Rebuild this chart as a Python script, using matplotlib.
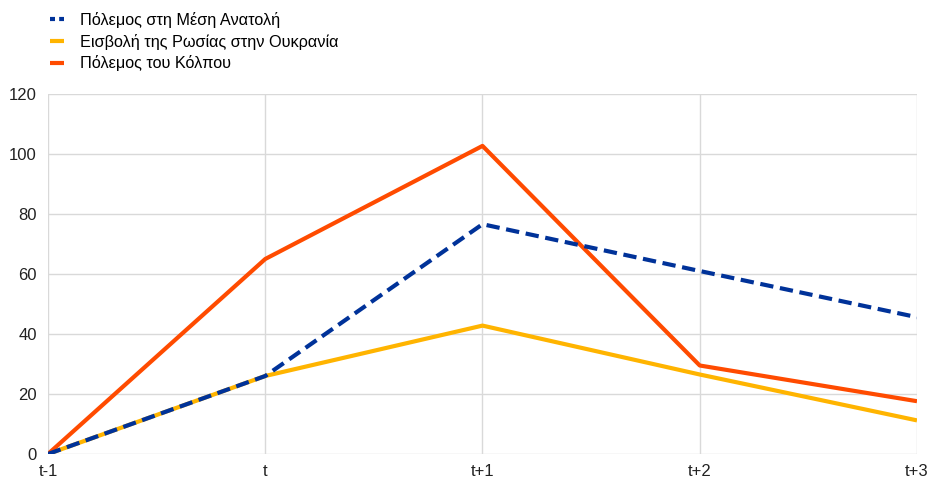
import matplotlib.pyplot as plt

periods = ["t-1", "t", "t+1", "t+2", "t+3"]
middle_east = [0, 26, 76.6, 61, 45.6]
russia_ukraine = [0, 26, 42.8, 26.5, 11.2]
gulf_war = [0, 65, 102.7, 29.5, 17.6]

labels = ["Πόλεμος στη Μέση Ανατολή",
          "Εισβολή της Ρωσίας στην Ουκρανία",
          "Πόλεμος του Κόλπου"]
colors = ["#003299", "#ffb400", "#ff4b00"]

plt.rcParams['font.family'] = ['Liberation Sans', 'DejaVu Sans']

fig = plt.figure(figsize=(9.29, 4.79), dpi=100)
ax = fig.add_axes([48 / 929, 1 - 454 / 479, (917 - 48) / 929, (454 - 94) / 479])

x = list(range(len(periods)))
l_ru, = ax.plot(x, russia_ukraine, color=colors[1], lw=3, solid_capstyle='butt', zorder=3)
l_gw, = ax.plot(x, gulf_war, color=colors[2], lw=3, solid_capstyle='butt', zorder=4)
l_me, = ax.plot(x, middle_east, color=colors[0], lw=3, dashes=(3.2, 1.6), zorder=5)

ax.set_xlim(0, len(periods) - 1)
ax.set_ylim(0, 120)
ax.set_yticks(range(0, 121, 20))
ax.set_xticks(x)
ax.set_xticklabels(periods)

ax.grid(True, color="#d9d9d9", lw=1)
ax.set_axisbelow(True)
for s in ax.spines.values():
    s.set_visible(False)
ax.tick_params(length=0, labelsize=12, colors="#222222", pad=8)
ax.tick_params(axis='x', pad=7)

# legend handle for the dashed series: two short blocks like the original
leg_me = plt.Line2D([], [], color=colors[0], lw=3, dashes=(1.2, 1.0))
fig.legend([leg_me, l_ru, l_gw], labels, loc="upper left", bbox_to_anchor=(38 / 929, 1.0),
           frameon=False, fontsize=11.7, handlelength=0.86, handletextpad=0.95,
           labelspacing=0.34, borderaxespad=0.35)

fig.savefig("out.png", dpi=100)
